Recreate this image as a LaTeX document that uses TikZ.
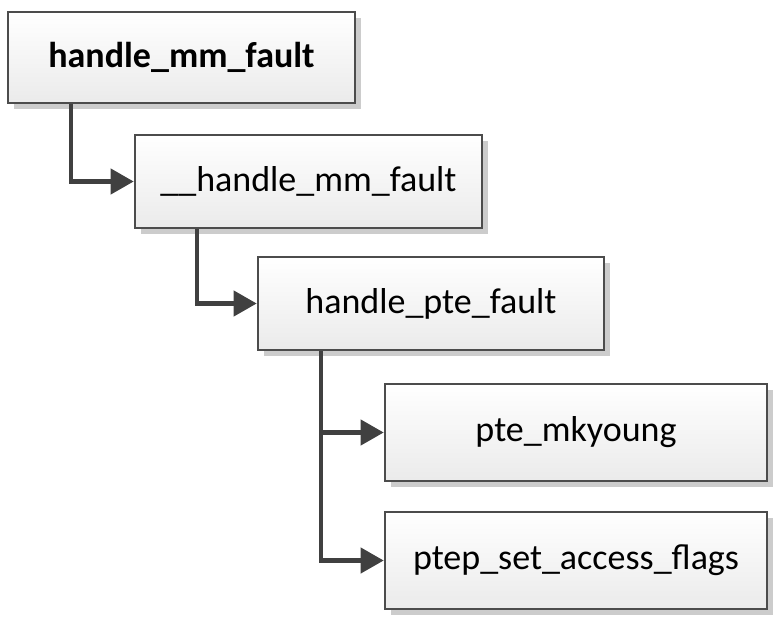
\documentclass[tikz,border=0pt]{standalone}
\usepackage{fontspec}
\setmainfont{Carlito}
\usetikzlibrary{arrows.meta,shadows}

\tikzset{
  fnbox/.style={draw=black!70, line width=2.6pt, top color=white, bottom color=black!8,
    drop shadow={shadow xshift=6pt, shadow yshift=-6pt, fill=black!20, opacity=1},
    font=\fontsize{36}{42}\selectfont, inner sep=0pt},
  calls/.style={draw=black!75, line width=4.2pt, -{Triangle[length=23pt,width=25pt]}}
}

\begin{document}
\begin{tikzpicture}[x=1pt, y=-1pt]
			\useasboundingbox (0,0) rectangle (779,619);

			\node[fnbox, minimum width=347pt, minimum height=91pt, font=\fontsize{36}{42}\selectfont\bfseries] (hmf) at (181.5, 57.5) {handle\_mm\_fault};
\node[fnbox, minimum width=347pt, minimum height=93pt] (uhmf) at (308.5, 181.5) {\_\_handle\_mm\_fault};
\node[fnbox, minimum width=346pt, minimum height=93pt] (hpf) at (431, 303.5) {handle\_pte\_fault};
\node[fnbox, minimum width=382pt, minimum height=97pt] (mky) at (576, 432.5) {pte\_mkyoung};
\node[fnbox, minimum width=382pt, minimum height=97pt] (psaf) at (576, 560.5) {ptep\_set\_access\_flags};

			\coordinate (j1) at ([xshift=64pt]hmf.south west);
\coordinate (j2) at ([xshift=63pt]uhmf.south west);
\coordinate (j3) at ([xshift=64pt]hpf.south west);

			\draw[calls] (j1) |- (uhmf.west);
\draw[calls] (j2) |- (hpf.west);
\draw[calls] (j3) |- (psaf.west);
\draw[calls] (j3 |- mky.west) -- (mky.west);


		\end{tikzpicture}
\end{document}
